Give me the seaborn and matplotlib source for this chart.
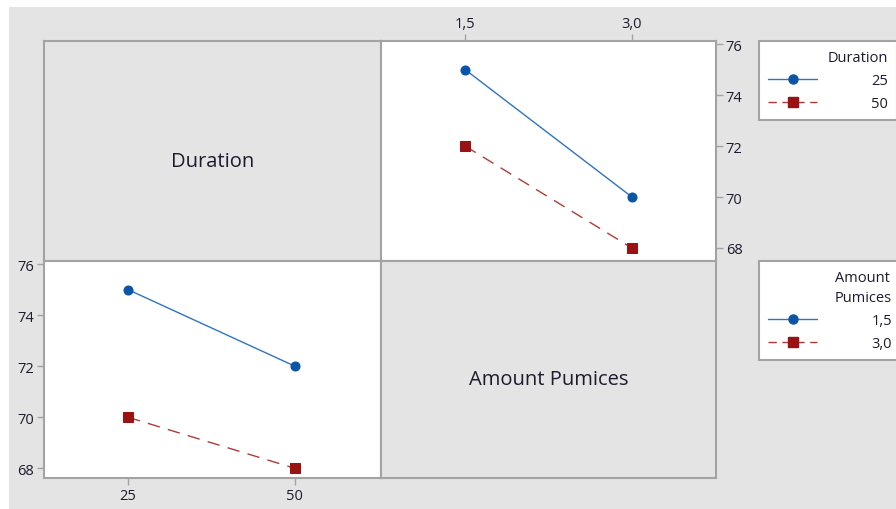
import matplotlib
matplotlib.use("Agg")
import matplotlib.pyplot as plt
import numpy as np
import pandas as pd
import seaborn as sns
from matplotlib.lines import Line2D
from matplotlib.patches import Rectangle

# Factor levels and fitted means of the response for every cell
duration_levels = ["25", "50"]
amount_levels = [1.5, 3.0]
amount_labels = ["1,5", "3,0"]
means_duration_25 = [75, 70]   # at amount 1,5 and 3,0
means_duration_50 = [72, 68]
y_ticks = [68, 70, 72, 74, 76]

rows = []
for dur, vals in zip(duration_levels, [means_duration_25, means_duration_50]):
    for amt, lab, v in zip(amount_levels, amount_labels, vals):
        rows.append({"Duration": dur, "DurationNum": float(dur),
                     "Amount": amt, "AmountLabel": lab, "Mean": v})
df = pd.DataFrame(rows)

sns.set_theme(style="white")
plt.rcParams["font.family"] = ["Open Sans", "DejaVu Sans"]

BG = "#e4e4e4"
EDGE = "#a3a3a3"
TXT = "#1c1c2e"
BLUE_LINE, BLUE_MARK = "#2f74c0", "#0a55a8"
RED_LINE, RED_MARK = "#b03a3a", "#9a1212"
RED_DASH = (9, 6)

W, H = 896, 510
fig = plt.figure(figsize=(W / 100, H / 100), dpi=100)
fig.patch.set_facecolor("white")
fig.add_artist(Rectangle((9 / W, 0), 1 - 9 / W, 1 - 8 / H,
                         transform=fig.transFigure, facecolor=BG,
                         edgecolor="none", zorder=-10))


def box(x0, y0, x1, y1):
    return [x0 / W, 1 - y1 / H, (x1 - x0) / W, (y1 - y0) / H]


ax_tl = fig.add_axes(box(44, 42, 381, 262))
ax_tr = fig.add_axes(box(381, 42, 716, 262))
ax_bl = fig.add_axes(box(44, 262, 381, 479))
ax_br = fig.add_axes(box(381, 262, 716, 479))

for ax in (ax_tl, ax_tr, ax_bl, ax_br):
    for sp in ax.spines.values():
        sp.set_color(EDGE)
        sp.set_linewidth(1.5)

for ax, label in ((ax_tl, "Duration"), (ax_br, "Amount Pumices")):
    ax.set_facecolor(BG)
    ax.set_xticks([])
    ax.set_yticks([])
    ax.text(0.5, 0.455, label, transform=ax.transAxes, ha="center",
            va="center", fontsize=14.5, color=TXT)

# Response vs amount, one line per duration
sns.lineplot(data=df, x="Amount", y="Mean", hue="Duration", style="Duration",
             palette={"25": BLUE_LINE, "50": RED_LINE},
             markers={"25": "o", "50": "s"},
             dashes={"25": "", "50": RED_DASH},
             linewidth=1.0, markersize=6.5, ax=ax_tr, legend=False)

# Response vs duration, one line per amount
df["AmountCat"] = df["AmountLabel"]
sns.lineplot(data=df, x="DurationNum", y="Mean", hue="AmountCat", style="AmountCat",
             palette={"1,5": BLUE_LINE, "3,0": RED_LINE},
             markers={"1,5": "o", "3,0": "s"},
             dashes={"1,5": "", "3,0": RED_DASH},
             linewidth=1.0, markersize=6.5, ax=ax_bl, legend=False)

for ax in (ax_tr, ax_bl):
    ax.set_facecolor("white")
    for ln in ax.lines:
        c = ln.get_color()
        mc = BLUE_MARK if c == BLUE_LINE else RED_MARK
        ln.set_markerfacecolor(mc)
        ln.set_markeredgecolor(mc)
    ax.set_xlabel("")
    ax.set_ylabel("")
    ax.set_yticks(y_ticks)
    ax.set_yticklabels([str(t) for t in y_ticks])
    ax.tick_params(length=5, width=1, color=EDGE, labelsize=10.5,
                   labelcolor=TXT, pad=2)

ax_tr.set_xlim(0.745, 3.755)
ax_tr.set_ylim(67.49, 76.12)
ax_tr.set_xticks(amount_levels)
ax_tr.set_xticklabels(amount_labels)
ax_tr.xaxis.tick_top()
ax_tr.yaxis.tick_right()
ax_tr.tick_params(axis="x", top=True, bottom=False)
ax_tr.tick_params(axis="y", right=True, left=False)

dur_vals = [float(d) for d in duration_levels]
ax_bl.set_xlim(12.43, 62.9)
ax_bl.set_ylim(67.62, 76.12)
ax_bl.set_xticks(dur_vals)
ax_bl.set_xticklabels(duration_levels)
ax_bl.tick_params(axis="x", bottom=True, top=False)
ax_bl.tick_params(axis="y", left=True, right=False)


def handles():
    return [
        Line2D([], [], color=BLUE_LINE, lw=1.0, marker="o", markersize=6.5,
               markerfacecolor=BLUE_MARK, markeredgecolor=BLUE_MARK),
        Line2D([], [], color=RED_LINE, lw=1.0, marker="s", markersize=6.5,
               dashes=(6, 4), markerfacecolor=RED_MARK,
               markeredgecolor=RED_MARK),
    ]


leg_kw = dict(loc="upper left", frameon=True, fancybox=False, framealpha=1,
              fontsize=10.5, title_fontsize=10.5, handlelength=3.4,
              handletextpad=3.7, borderpad=0.6, labelspacing=0.55,
              alignment="right", labelcolor=TXT, borderaxespad=0)

leg1 = fig.legend(handles(), duration_levels, title="Duration",
                  bbox_to_anchor=(759 / W, 1 - 42 / H), **leg_kw)
leg2 = fig.legend(handles(), amount_labels, title="Amount\nPumices",
                  bbox_to_anchor=(759 / W, 1 - 262 / H), **leg_kw)
leg2.get_title().set_linespacing(1.5)
for lg in (leg1, leg2):
    fr = lg.get_frame()
    fr.set_facecolor("white")
    fr.set_edgecolor(EDGE)
    fr.set_linewidth(1.5)
    lg.get_title().set_color(TXT)

fig.savefig("out.png", dpi=100)
